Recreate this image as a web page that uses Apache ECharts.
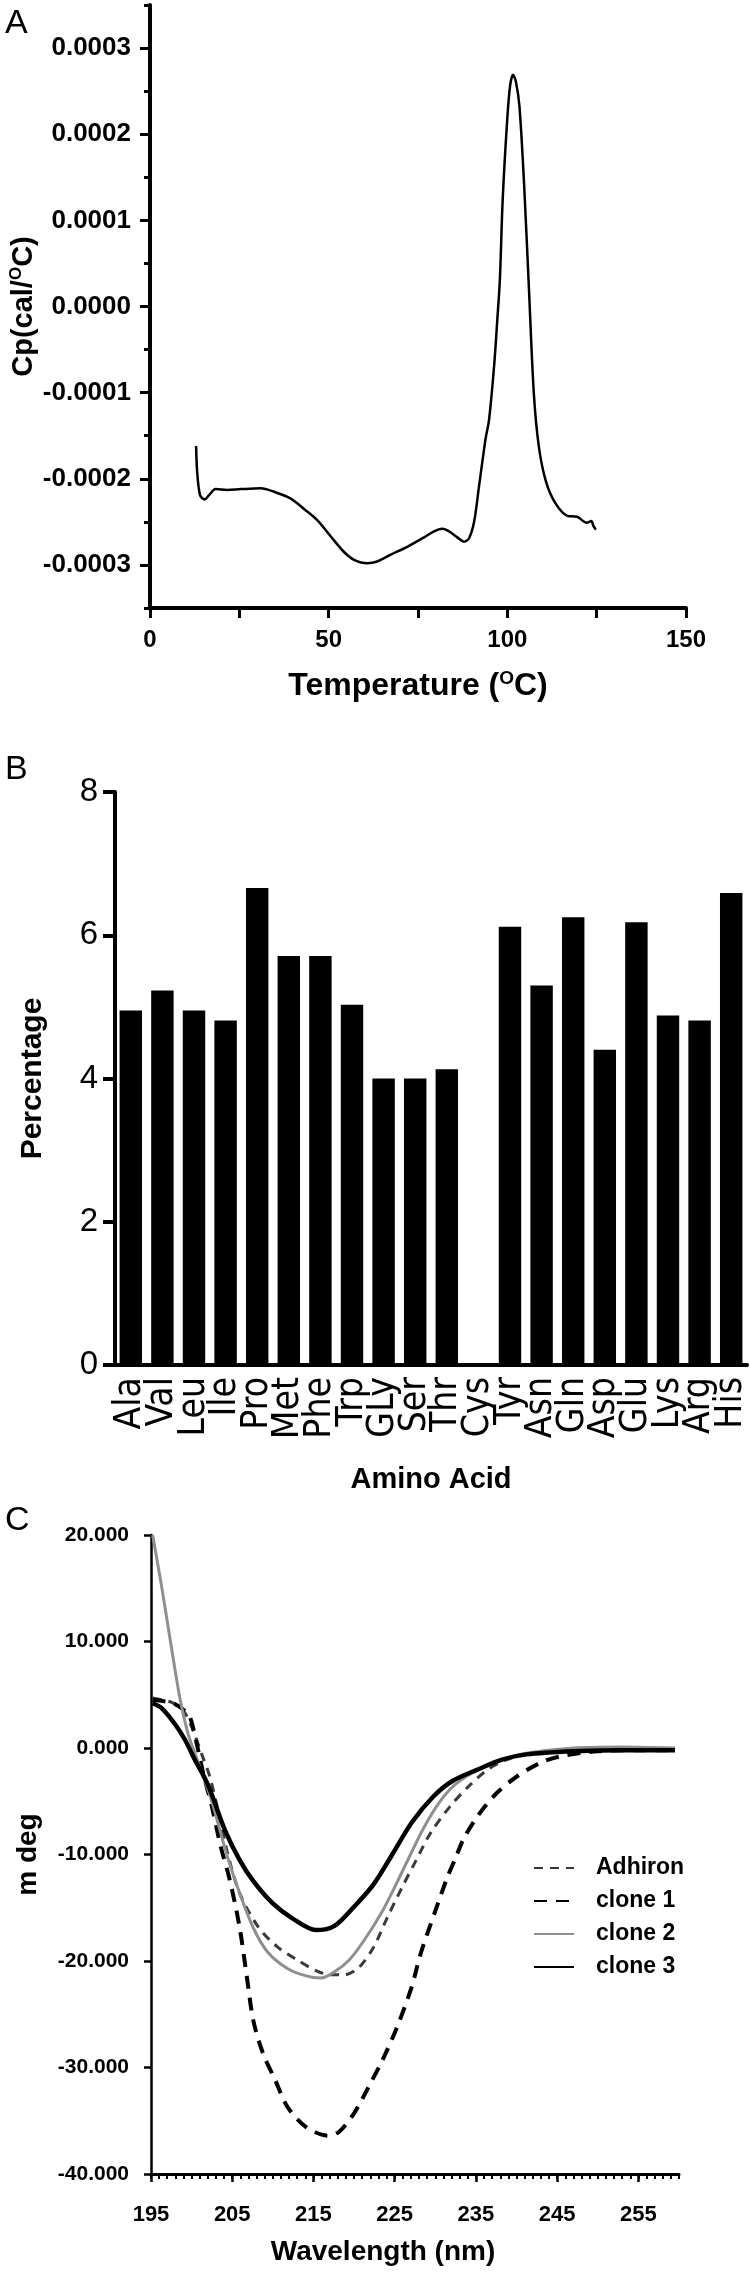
<!DOCTYPE html>
<html>
<head>
<meta charset="utf-8">
<script src="https://cdn.jsdelivr.net/npm/echarts@6/dist/echarts.min.js"></script>
<style>
html,body{margin:0;padding:0;background:#ffffff;}
#main{width:750px;height:2272px;}
</style>
</head>
<body>
<div id="main"></div>
<script>
const FONT = "'Liberation Sans', Arial, Helvetica, sans-serif";
const NARROW = "'Liberation Sans Narrow', 'Arial Narrow', 'DejaVu Sans Condensed', sans-serif";

// ---------- Panel A : DSC thermogram ----------
const dscTemp = [12.9, 13.2, 14.0, 15.3, 16.5, 18.4, 21.6, 25.4, 31.0, 34.7, 39.4, 43.1, 46.8, 50.6, 54.3, 57.1, 60.8, 63.6, 67.4, 72.0, 76.7, 79.5, 81.8, 83.7, 86.0, 87.9, 89.3, 90.7, 92.1, 93.9, 94.9, 96.3, 97.2, 97.9, 98.7, 100.0, 100.8, 101.6, 102.4, 103.4, 104.7, 106.0, 107.4, 108.8, 110.8, 113.4, 116.8, 119.5, 122.2, 123.5, 124.1, 124.8];
const dscCp = [-0.000162, -0.000192, -0.000219, -0.000224, -0.000219, -0.000212, -0.000213, -0.000212, -0.000211, -0.000215, -0.000223, -0.000235, -0.000248, -0.000267, -0.000285, -0.000294, -0.000298, -0.000296, -0.000288, -0.000279, -0.000268, -0.000261, -0.000258, -0.000261, -0.000268, -0.000273, -0.000269, -0.000250, -0.000208, -0.000154, -0.000131, -0.000069, -0.000015, 0.000030, 0.000124, 0.000219, 0.000257, 0.000269, 0.000261, 0.000232, 0.000141, 0.000025, -0.000100, -0.000162, -0.000203, -0.000228, -0.000243, -0.000244, -0.000251, -0.000249, -0.000255, -0.000259];
const dscYTicks = [-0.0003, -0.0002, -0.0001, 0, 0.0001, 0.0002, 0.0003];

// ---------- Panel B : amino acid composition ----------
const aminoAcids = ['Ala', 'Val', 'Leu', 'Ile', 'Pro', 'Met', 'Phe', 'Trp', 'GLy', 'Ser', 'Thr', 'Cys', 'Tyr', 'Asn', 'Gln', 'Asp', 'Glu', 'Lys', 'Arg', 'His'];
const aminoPercent = [4.95, 5.23, 4.95, 4.81, 6.66, 5.71, 5.71, 5.03, 4.0, 4.0, 4.13, 0, 6.12, 5.30, 6.25, 4.40, 6.18, 4.88, 4.81, 6.59];

// ---------- Panel C : CD spectra ----------
const adhironWl   = [195.2, 196.5, 197.5, 198.9, 200.0, 201.2, 202.2, 203.3, 204.4, 205.9, 208.2, 210.6, 213.0, 215.3, 217.1, 218.8, 220.6, 222.4, 224.1, 225.9, 227.6, 229.4, 231.8, 234.1, 236.5, 238.8, 241.2, 247.0, 253.0, 259.5];
const adhironMdeg = [4.7, 4.5, 4.3, 3.6, 2.0, -0.5, -2.6, -6.0, -9.8, -13.6, -16.8, -18.7, -19.9, -20.9, -21.3, -21.3, -20.6, -18.7, -15.9, -13.1, -10.6, -8.0, -5.5, -3.6, -2.0, -1.1, -0.6, -0.3, -0.2, -0.2];
const clone1Wl    = [195.2, 196.5, 198.0, 199.0, 199.8, 200.6, 201.5, 202.5, 203.5, 204.7, 205.9, 206.8, 207.6, 208.8, 210.3, 211.8, 214.1, 216.8, 218.2, 220.0, 221.8, 223.5, 225.3, 227.1, 228.2, 230.0, 231.5, 232.4, 233.5, 235.3, 237.6, 240.0, 242.9, 245.3, 250.0, 255.0, 259.5];
const clone1Mdeg  = [4.5, 4.4, 4.1, 3.6, 2.9, 0.5, -2.6, -5.5, -9.0, -12.4, -16.8, -21.5, -25.6, -28.7, -31.2, -33.7, -35.6, -36.4, -36.0, -34.3, -31.8, -29.3, -26.2, -22.4, -19.3, -15.3, -12.1, -10.5, -8.5, -6.3, -4.2, -2.7, -1.4, -0.8, -0.3, -0.2, -0.2];
const clone2Wl    = [195.2, 196.3, 197.5, 198.6, 199.5, 200.4, 201.4, 202.4, 203.3, 204.4, 205.9, 207.6, 209.4, 211.8, 214.1, 215.9, 217.6, 219.4, 221.2, 223.5, 225.3, 226.5, 228.5, 230.5, 232.5, 235.3, 238.2, 241.2, 247.0, 253.0, 259.5];
const clone2Mdeg  = [20.0, 15.2, 9.5, 4.5, 1.5, -0.5, -2.6, -4.8, -7.2, -10.2, -13.6, -16.9, -19.2, -20.7, -21.4, -21.6, -21.0, -19.9, -18.1, -15.3, -12.6, -10.7, -7.6, -5.1, -3.4, -2.0, -1.1, -0.5, 0.0, 0.1, 0.0];
const clone3Wl    = [195.2, 196.3, 197.9, 199.2, 200.4, 201.6, 202.4, 204.1, 205.9, 207.6, 210.0, 212.4, 215.3, 217.6, 220.0, 222.4, 224.7, 227.1, 229.7, 232.1, 235.3, 238.2, 241.2, 247.0, 253.0, 259.5];
const clone3Mdeg  = [4.2, 3.75, 2.3, 0.75, -1.1, -2.8, -4.2, -7.7, -10.5, -12.5, -14.6, -16.0, -17.1, -16.7, -14.9, -12.8, -10.0, -7.0, -4.6, -3.1, -2.0, -1.1, -0.6, -0.3, -0.2, -0.2];
const wlLabelTicks = [195, 205, 215, 225, 235, 245, 255];

function pairs(xs, ys) { return xs.map((x, i) => [x, ys[i]]); }

const BLACK = '#000000';
const boldText = (size) => ({ fontFamily: FONT, fontSize: size, fontWeight: 'bold', color: BLACK });

const chart = echarts.init(document.getElementById('main'), null, { renderer: 'canvas' });

const option = {
  backgroundColor: '#ffffff',
  animation: false,
  grid: [
    { left: 150, top: 5, width: 536, height: 603 },
    { left: 115, top: 792, width: 632, height: 573 },
    { left: 151, top: 1535, width: 528, height: 639 }
  ],
  graphic: [
    { type: 'text', left: 5, top: 7, style: { text: 'A', fontFamily: FONT, fontSize: 34, fill: BLACK } },
    { type: 'text', left: 5, top: 753, style: { text: 'B', fontFamily: FONT, fontSize: 34, fill: BLACK } },
    { type: 'text', left: 5, top: 1504, style: { text: 'C', fontFamily: FONT, fontSize: 34, fill: BLACK } }
  ],
  legend: {
    orient: 'vertical',
    left: 528,
    top: 1851,
    itemWidth: 40,
    itemHeight: 14,
    itemGap: 9,
    selectedMode: false,
    data: ['Adhiron', 'clone 1', 'clone 2', 'clone 3'],
    itemStyle: { opacity: 0 },
    textStyle: { fontFamily: FONT, fontSize: 23, fontWeight: 'bold', color: BLACK, padding: [0, 0, 0, 17], lineHeight: 24 }
  },
  xAxis: [
    {
      gridIndex: 0, type: 'value', min: 0, max: 150, interval: 25,
      axisLine: { onZero: false, lineStyle: { color: BLACK, width: 4 } },
      axisTick: { length: 10, lineStyle: { color: BLACK, width: 3 } },
      axisLabel: Object.assign(boldText(24), { margin: 20, formatter: v => (v % 50 === 0 ? String(v) : '') }),
      splitLine: { show: false },
      name: 'Temperature ({s|O}C)', nameLocation: 'middle', nameGap: 61,
      nameTextStyle: Object.assign(boldText(32), { rich: { s: { fontFamily: FONT, fontSize: 19, fontWeight: 'bold', color: BLACK, verticalAlign: 'top', lineHeight: 35 } } })
    },
    {
      gridIndex: 1, type: 'category', data: aminoAcids,
      axisLine: { onZero: false, lineStyle: { color: BLACK, width: 4 } },
      axisTick: { alignWithLabel: true, length: 8, lineStyle: { color: BLACK, width: 3 } },
      axisLabel: { interval: 0, rotate: 90, fontFamily: NARROW, fontSize: 37, color: BLACK, margin: 12 },
      name: 'Amino Acid', nameLocation: 'middle', nameGap: 100,
      nameTextStyle: boldText(29)
    },
    {
      gridIndex: 2, type: 'value', min: 195, max: 260, position: 'bottom',
      axisLine: { onZero: false, lineStyle: { color: BLACK, width: 3 } },
      axisTick: { customValues: wlLabelTicks, length: 8, lineStyle: { color: BLACK, width: 2.5 } },
      axisLabel: Object.assign(boldText(22), { customValues: wlLabelTicks, margin: 30 }),
      splitLine: { show: false },
      name: 'Wavelength (nm)', nameLocation: 'middle', nameGap: 64,
      nameTextStyle: Object.assign(boldText(28), { padding: [0, 64, 0, 0] })
    },
    {
      gridIndex: 2, type: 'value', min: 195, max: 260, interval: 1, position: 'bottom',
      axisLine: { show: false, onZero: false },
      axisTick: { length: 5, lineStyle: { color: BLACK, width: 2 } },
      axisLabel: { show: false },
      splitLine: { show: false }
    }
  ],
  yAxis: [
    {
      gridIndex: 0, type: 'value', min: -0.00035, max: 0.00035, interval: 0.00005, position: 'left',
      axisLine: { show: true, onZero: false, lineStyle: { color: BLACK, width: 4 } },
      axisTick: { length: 6, lineStyle: { color: BLACK, width: 3 } },
      axisLabel: { show: false },
      splitLine: { show: false },
      name: 'Cp(cal/{s|O}C)', nameLocation: 'middle', nameGap: 110, nameRotate: 90,
      nameTextStyle: Object.assign(boldText(29), { rich: { s: { fontFamily: FONT, fontSize: 17, fontWeight: 'bold', color: BLACK, verticalAlign: 'top', lineHeight: 32 } } })
    },
    {
      gridIndex: 0, type: 'value', min: -0.00035, max: 0.00035, position: 'left',
      axisLine: { show: false, onZero: false },
      axisTick: { customValues: dscYTicks, length: 10, lineStyle: { color: BLACK, width: 3 } },
      axisLabel: Object.assign(boldText(26), { customValues: dscYTicks, margin: 19, formatter: v => Number(v).toFixed(4) }),
      splitLine: { show: false }
    },
    {
      gridIndex: 1, type: 'value', min: 0, max: 8, interval: 2,
      axisLine: { show: true, onZero: false, lineStyle: { color: BLACK, width: 4 } },
      axisTick: { show: true, length: 12, lineStyle: { color: BLACK, width: 4 } },
      axisLabel: { fontFamily: FONT, fontSize: 33, color: BLACK, margin: 17 },
      splitLine: { show: false },
      name: 'Percentage', nameLocation: 'middle', nameGap: 67, nameRotate: 90,
      nameTextStyle: boldText(30)
    },
    {
      gridIndex: 2, type: 'value', min: -40, max: 20, interval: 10,
      axisLine: { show: true, onZero: false, lineStyle: { color: BLACK, width: 2.5 } },
      axisTick: { show: true, length: 7, lineStyle: { color: BLACK, width: 2.5 } },
      axisLabel: Object.assign(boldText(21), { margin: 22, formatter: v => Number(v).toFixed(3) }),
      splitLine: { show: false },
      name: 'm deg', nameLocation: 'middle', nameGap: 109, nameRotate: 90,
      nameTextStyle: boldText(28)
    }
  ],
  series: [
    {
      name: 'DSC', type: 'line', xAxisIndex: 0, yAxisIndex: 0,
      data: pairs(dscTemp, dscCp), symbol: 'none', smooth: 0.3,
      lineStyle: { color: BLACK, width: 2.5 }
    },
    {
      name: 'Percentage', type: 'bar', xAxisIndex: 1, yAxisIndex: 2,
      data: aminoPercent, barWidth: '71%',
      itemStyle: { color: BLACK }
    },
    {
      name: 'Adhiron', type: 'line', xAxisIndex: 2, yAxisIndex: 3,
      data: pairs(adhironWl, adhironMdeg), symbol: 'none', smooth: 0.3,
      color: '#3a3a3a',
      lineStyle: { color: '#3a3a3a', width: 3, type: [9, 7] }
    },
    {
      name: 'clone 1', type: 'line', xAxisIndex: 2, yAxisIndex: 3,
      data: pairs(clone1Wl, clone1Mdeg), symbol: 'none', smooth: 0.3,
      color: BLACK,
      lineStyle: { color: BLACK, width: 4, type: [13, 9] }
    },
    {
      name: 'clone 2', type: 'line', xAxisIndex: 2, yAxisIndex: 3,
      data: pairs(clone2Wl, clone2Mdeg), symbol: 'none', smooth: 0.3,
      color: '#8f8f8f',
      lineStyle: { color: '#8f8f8f', width: 3 }
    },
    {
      name: 'clone 3', type: 'line', xAxisIndex: 2, yAxisIndex: 3,
      data: pairs(clone3Wl, clone3Mdeg), symbol: 'none', smooth: 0.3,
      color: BLACK,
      lineStyle: { color: BLACK, width: 4.5 }
    }
  ]
};

chart.setOption(option);
</script>
</body>
</html>
